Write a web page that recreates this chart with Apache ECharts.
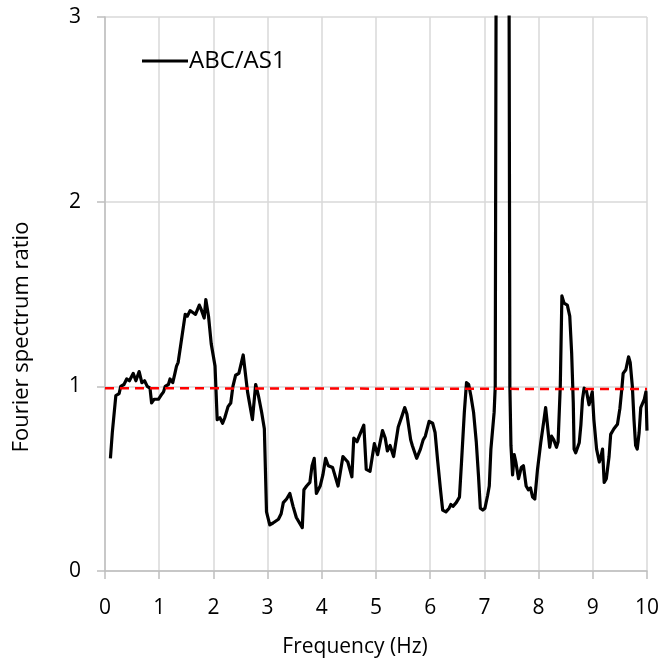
<!DOCTYPE html>
<html>
<head>
<meta charset="utf-8">
<style>
  html, body { margin: 0; padding: 0; background: #fff; }
  #chart { width: 662px; height: 666px; }
</style>
<script src="https://cdn.jsdelivr.net/npm/echarts@6/dist/echarts.min.js"></script>
</head>
<body>
<div id="chart"></div>
<script>
// Spectral ratio ABC/AS1 against frequency (Hz)
const freq = [
  0.10, 0.135, 0.20, 0.26, 0.29, 0.35, 0.40, 0.45, 0.52, 0.57, 0.63, 0.68, 0.73, 0.78, 0.83, 0.86, 0.905, 0.985,
  1.03, 1.08, 1.11, 1.17, 1.20, 1.25, 1.29, 1.32, 1.35, 1.42, 1.48, 1.52, 1.57, 1.62, 1.67, 1.74, 1.77, 1.83, 1.86, 1.91, 1.96,
  2.03, 2.07, 2.12, 2.17, 2.21, 2.27, 2.32, 2.36, 2.41, 2.47, 2.55, 2.63, 2.66, 2.72, 2.78, 2.83, 2.89, 2.94, 2.98,
  3.04, 3.10, 3.20, 3.25, 3.29, 3.35, 3.41, 3.47, 3.53, 3.64, 3.67, 3.72, 3.78, 3.82, 3.86, 3.90, 3.97,
  4.02, 4.07, 4.12, 4.20, 4.30, 4.39, 4.48, 4.555, 4.59, 4.65, 4.69, 4.775, 4.82, 4.89, 4.97,
  5.03, 5.12, 5.17, 5.21, 5.26, 5.325, 5.41, 5.48, 5.53, 5.57, 5.64, 5.67, 5.75, 5.82, 5.87, 5.91, 5.98,
  6.045, 6.09, 6.14, 6.19, 6.23, 6.29, 6.35, 6.38, 6.42, 6.48, 6.54, 6.58, 6.63, 6.67, 6.71, 6.75, 6.80, 6.85, 6.89, 6.925, 6.97,
  7.01, 7.06, 7.09, 7.12, 7.18, 7.20, 7.34, 7.47, 7.49, 7.52, 7.55, 7.58, 7.63, 7.68, 7.72, 7.77, 7.81, 7.85, 7.89, 7.93, 7.98,
  8.04, 8.10, 8.13, 8.16, 8.205, 8.24, 8.28, 8.33, 8.36, 8.40, 8.43, 8.47, 8.53, 8.575, 8.61, 8.64, 8.655, 8.685, 8.75, 8.78, 8.81, 8.84, 8.88, 8.93, 8.96, 8.99,
  9.02, 9.07, 9.12, 9.15, 9.18, 9.21, 9.25, 9.30, 9.33, 9.39, 9.455, 9.50, 9.535, 9.56, 9.61, 9.66, 9.69, 9.73, 9.76, 9.79, 9.82, 9.855, 9.885, 9.91, 9.95, 9.98, 10.0
];
const ratio = [
  0.61, 0.75, 0.95, 0.96, 1.00, 1.01, 1.04, 1.03, 1.07, 1.03, 1.08, 1.02, 1.03, 1.00, 0.99, 0.91, 0.93, 0.93,
  0.95, 0.97, 1.00, 1.01, 1.04, 1.02, 1.07, 1.11, 1.13, 1.27, 1.39, 1.38, 1.41, 1.40, 1.39, 1.44, 1.42, 1.37, 1.47, 1.38, 1.23,
  1.11, 0.82, 0.83, 0.80, 0.83, 0.89, 0.91, 1.00, 1.06, 1.07, 1.17, 0.97, 0.92, 0.82, 1.01, 0.95, 0.86, 0.77, 0.32,
  0.25, 0.26, 0.28, 0.31, 0.37, 0.39, 0.42, 0.35, 0.29, 0.235, 0.44, 0.46, 0.48, 0.57, 0.61, 0.42, 0.46,
  0.52, 0.61, 0.57, 0.56, 0.46, 0.62, 0.59, 0.51, 0.72, 0.70, 0.73, 0.79, 0.55, 0.54, 0.69,
  0.63, 0.76, 0.72, 0.65, 0.68, 0.62, 0.78, 0.84, 0.885, 0.85, 0.71, 0.68, 0.61, 0.66, 0.71, 0.73, 0.81,
  0.80, 0.75, 0.59, 0.44, 0.33, 0.32, 0.34, 0.36, 0.35, 0.37, 0.40, 0.60, 0.86, 1.02, 1.01, 0.95, 0.86, 0.70, 0.52, 0.34, 0.33,
  0.34, 0.41, 0.46, 0.66, 0.86, 1.00, 20.0, 1.00, 0.68, 0.52, 0.63, 0.59, 0.50, 0.56, 0.57, 0.46, 0.44, 0.45, 0.40, 0.39, 0.55,
  0.695, 0.82, 0.885, 0.80, 0.67, 0.73, 0.71, 0.67, 0.70, 1.00, 1.49, 1.45, 1.44, 1.38, 1.18, 0.91, 0.66, 0.64, 0.695, 0.79, 0.93, 0.99, 0.98, 0.90, 0.89, 0.97,
  0.82, 0.66, 0.59, 0.62, 0.66, 0.48, 0.50, 0.62, 0.74, 0.77, 0.795, 0.88, 0.985, 1.07, 1.09, 1.16, 1.13, 1.00, 0.82, 0.68, 0.66, 0.75, 0.885, 0.88, 0.93, 0.97, 0.76
];
// Linear reference level (dashed red)
const refFreq = [0, 10];
const refRatio = [0.99, 0.985];

const xTicks = { min: 0, max: 10, interval: 1 };
const yTicks = { min: 0, max: 3, interval: 1 };

const FONT = '"Open Sans", "Noto Sans", sans-serif';

const chart = echarts.init(document.getElementById('chart'), null, { renderer: 'canvas' });

chart.setOption({
  animation: false,
  backgroundColor: '#ffffff',
  grid: { left: 105, right: 15, top: 17, bottom: 95, containLabel: false },
  legend: {
    left: 137,
    top: 44,
    itemWidth: 46,
    itemHeight: 3,
    itemGap: 10,
    icon: 'rect',
    data: ['ABC/AS1'],
    textStyle: { fontFamily: FONT, fontSize: 24, color: '#000', padding: [0, 0, 0, -4] }
  },
  xAxis: {
    type: 'value',
    min: xTicks.min, max: xTicks.max, interval: xTicks.interval,
    name: 'Frequency (Hz)',
    nameLocation: 'middle',
    nameGap: 66,
    nameTextStyle: { fontFamily: FONT, fontSize: 21, color: '#000', padding: [0, 42, 0, 0] },
    axisLine: { show: true, onZero: false, lineStyle: { color: '#bfbfbf', width: 1.5 } },
    axisTick: { show: true, inside: false, length: 8, lineStyle: { color: '#bfbfbf', width: 1.5 } },
    axisLabel: { fontFamily: FONT, fontSize: 21, color: '#000', margin: 27 },
    splitLine: { show: true, lineStyle: { color: '#d9d9d9', width: 1.5 } }
  },
  yAxis: {
    type: 'value',
    min: yTicks.min, max: yTicks.max, interval: yTicks.interval,
    name: 'Fourier spectrum ratio',
    nameLocation: 'middle',
    nameGap: 72,
    nameRotate: 90,
    nameTextStyle: { fontFamily: FONT, fontSize: 22, color: '#000', padding: [0, 86, 0, 0] },
    axisLine: { show: true, lineStyle: { color: '#bfbfbf', width: 1.5 } },
    axisTick: { show: true, inside: false, length: 8, lineStyle: { color: '#bfbfbf', width: 1.5 } },
    axisLabel: { fontFamily: FONT, fontSize: 21, color: '#000', margin: 24 },
    splitLine: { show: true, lineStyle: { color: '#d9d9d9', width: 1.5 } }
  },
  series: [
    {
      name: 'ABC/AS1',
      type: 'line',
      data: freq.map((f, i) => [f, ratio[i]]),
      showSymbol: false,
      symbol: 'none',
      clip: true,
      color: '#000000',
      lineStyle: { color: '#000000', width: 3.2, join: 'round' },
      z: 3
    },
    {
      name: 'reference',
      type: 'line',
      data: refFreq.map((f, i) => [f, refRatio[i]]),
      showSymbol: false,
      symbol: 'none',
      color: '#ff0000',
      lineStyle: { color: '#ff0000', width: 2.5, type: [9, 6] },
      z: 4
    }
  ]
});
</script>
</body>
</html>
